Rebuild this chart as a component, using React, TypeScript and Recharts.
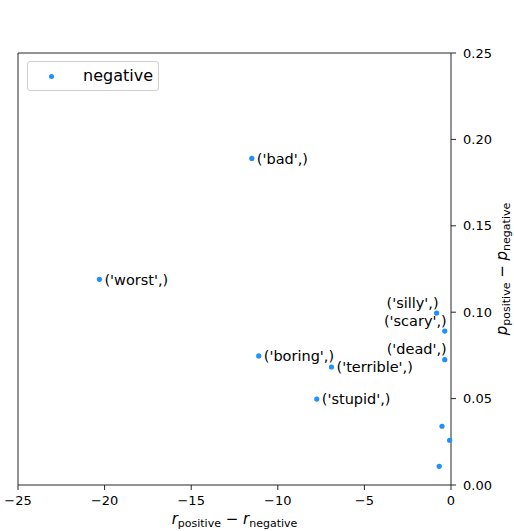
import { ScatterChart, Scatter, XAxis, YAxis, ReferenceLine, Label } from 'recharts';

// words for each point (empty = no annotation)
const words = ['bad', 'worst', 'boring', 'terrible', 'stupid', 'silly', 'scary', 'dead', '', '', ''];
const rDiff = [-11.5, -20.3, -11.1, -6.9, -7.75, -0.83, -0.36, -0.36, -0.52, -0.08, -0.68];
const pDiff = [0.189, 0.119, 0.0747, 0.0683, 0.0497, 0.0995, 0.0891, 0.0725, 0.034, 0.0259, 0.0108];
const xTicks = [-25, -20, -15, -10, -5, 0];
const yTicks = [0, 0.05, 0.1, 0.15, 0.2, 0.25];
// annotations drawn to the left of the point
const leftWords = ['silly', 'scary', 'dead'];

const data = words.map((w, i) => ({ word: w, x: rDiff[i], y: pDiff[i] }));

const FONT = 'DejaVu Sans, sans-serif';
const BLUE = '#1e90ff';
const AXIS = '#262626';

function Dot(props: any) {
  const { cx, cy, payload } = props;
  const w = payload.word;
  const left = leftWords.includes(w);
  return (
    <g>
      <circle cx={cx} cy={cy} r={2.6} fill={BLUE} />
      {w && (
        left ? (
          <text x={cx + 2} y={cy - 5.5} textAnchor="end" fontSize={14.5} fontFamily={FONT} fill="#000">
            {`('${w}',)`}
          </text>
        ) : (
          <text x={cx + 5} y={cy} dy="0.36em" textAnchor="start" fontSize={14.5} fontFamily={FONT} fill="#000">
            {`('${w}',)`}
          </text>
        )
      )}
    </g>
  );
}

const fmtX = (v: number) => (v < 0 ? '\u2212' + Math.abs(v) : String(v));
const fmtY = (v: number) => v.toFixed(2);

function XLabel(props: any) {
  const { x, y, width } = props.viewBox;
  return (
    <text x={x + width / 2} y={y + 39} textAnchor="middle" fontFamily={FONT} fontSize={15} fill="#000">
      <tspan fontStyle="italic">r</tspan>
      <tspan fontSize={11} dy={3}>positive</tspan>
      <tspan dy={-3}> {'\u2212'} </tspan>
      <tspan fontStyle="italic">r</tspan>
      <tspan fontSize={11} dy={3}>negative</tspan>
    </text>
  );
}

function YLabel(props: any) {
  const { y, height } = props.viewBox;
  const cx = 507;
  const cy = y + height / 2;
  return (
    <text x={cx} y={cy} transform={`rotate(-90, ${cx}, ${cy})`} textAnchor="middle" fontFamily={FONT} fontSize={15} fill="#000">
      <tspan fontStyle="italic">p</tspan>
      <tspan fontSize={11} dy={3}>positive</tspan>
      <tspan dy={-3}> {'\u2212'} </tspan>
      <tspan fontStyle="italic">p</tspan>
      <tspan fontSize={11} dy={3}>negative</tspan>
    </text>
  );
}

export default function App() {
  return (
    <div style={{ position: 'absolute', left: 0, top: 0, width: 514, height: 531, background: '#fff' }}>
      <ScatterChart width={514} height={531} margin={{ top: 53, right: 0, bottom: 0, left: 18 }}>
        <XAxis
          type="number"
          dataKey="x"
          domain={[-25, 0]}
          ticks={xTicks}
          tickFormatter={fmtX}
          height={46}
          stroke={AXIS}
          tickSize={5}
          tickMargin={6}
          tick={{ fill: '#000', fontSize: 13, fontFamily: FONT }}
        >
          <Label content={<XLabel />} />
        </XAxis>
        <YAxis
          type="number"
          dataKey="y"
          orientation="right"
          domain={[0, 0.25]}
          ticks={yTicks}
          tickFormatter={fmtY}
          width={63}
          stroke={AXIS}
          tickSize={5}
          tickMargin={7}
          tick={{ fill: '#000', fontSize: 13, fontFamily: FONT, textAnchor: 'start' }}
        >
          <Label content={<YLabel />} />
        </YAxis>
        <ReferenceLine y={0.25} stroke={AXIS} />
        <ReferenceLine x={-25} stroke={AXIS} />
        <Scatter data={data} shape={<Dot />} isAnimationActive={false} />
      </ScatterChart>
      <div
        style={{
          position: 'absolute', left: 27, top: 61, width: 132, height: 30,
          border: '1px solid #d0d0d0', borderRadius: 3, background: 'rgba(255,255,255,0.8)',
          fontFamily: FONT, fontSize: 16, boxSizing: 'border-box',
        }}
      >
        <span style={{ position: 'absolute', left: 21, top: 12, width: 5, height: 5, borderRadius: '50%', background: BLUE }} />
        <span style={{ position: 'absolute', left: 55, top: 4, lineHeight: '19px', color: '#000' }}>negative</span>
      </div>
    </div>
  );
}
